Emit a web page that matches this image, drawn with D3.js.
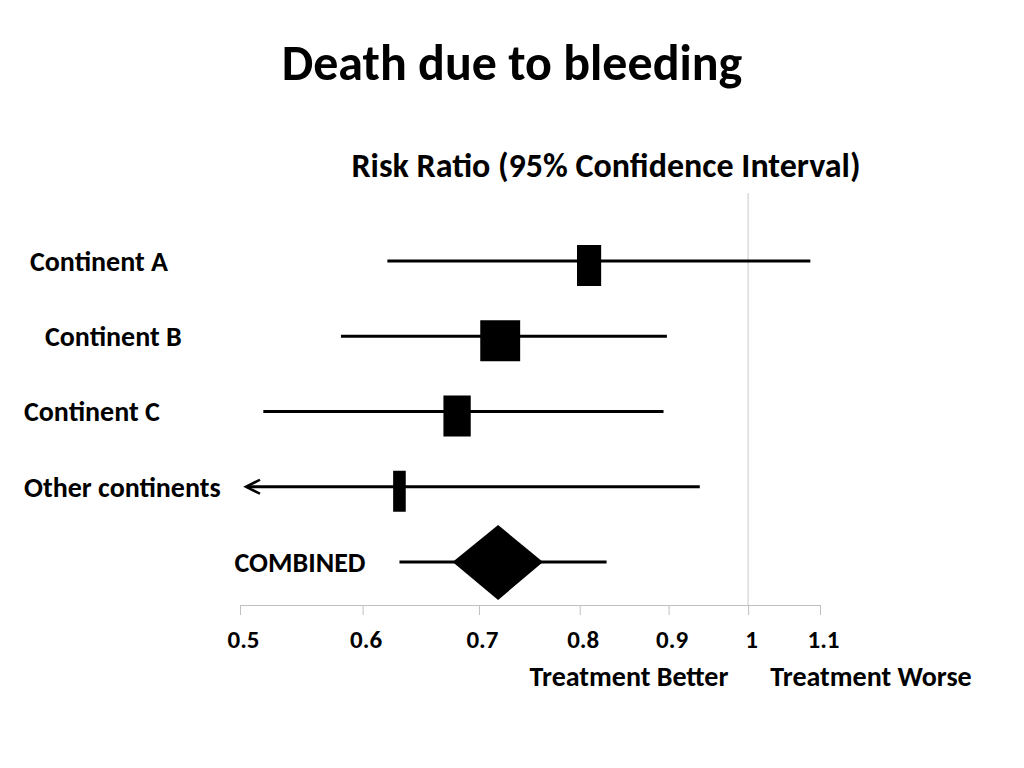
<!DOCTYPE html>
<html>
<head>
<meta charset="utf-8">
<script src="https://cdn.jsdelivr.net/npm/d3@7"></script>
<style>
  body { margin: 0; background: #fff; }
  svg text { font-family: Carlito, Lato, "Open Sans", sans-serif; font-weight: bold; fill: #000; }
</style>
</head>
<body>
<svg id="forest" width="1024" height="768"></svg>
<script>
// data
var groups   = ["Continent A", "Continent B", "Continent C", "Other continents", "COMBINED"];
var estimate = [0.81, 0.72, 0.68, 0.63, 0.718];
var lower    = [0.62, 0.583, 0.526, 0.45, 0.630];
var upper    = [1.086, 0.898, 0.894, 0.938, 0.829];
var weights  = [23, 38, 26, 12];          // study boxes, widths ~ weight
var combinedCI = [0.676, 0.762];          // diamond edges
var tickValues = [0.5, 0.6, 0.7, 0.8, 0.9, 1, 1.1];
var tickLabels = ["0.5", "0.6", "0.7", "0.8", "0.9", "1", "1.1"];

// layout
var svg = d3.select("svg#forest");
var axisY = 605,
    refTop = 193;

var x = d3.scaleLog().domain([0.51, 1.1]).range([240, 820]).clamp(true);
var y = d3.scalePoint().domain(groups).range([261, 562]);
var w = d3.scaleLinear().domain([0, 40]).range([0, 42]);

var labelX = { "Continent A": 30, "Continent B": 45, "Continent C": 24, "Other continents": 24 };

// titles
svg.append("text")
    .attr("x", 512).attr("y", 80)
    .attr("text-anchor", "middle")
    .style("font-size", "50px")
    .text("Death due to bleeding");

svg.append("text")
    .attr("x", 606).attr("y", 177)
    .attr("text-anchor", "middle")
    .style("font-size", "34px")
    .text("Risk Ratio (95% Confidence Interval)");

// line of no effect
svg.append("line")
    .attr("x1", x(1)).attr("x2", x(1))
    .attr("y1", refTop).attr("y2", axisY)
    .attr("stroke", "#c8c8c8")
    .attr("stroke-width", 1);

// axis
var axis = svg.append("g")
    .attr("class", "axis")
    .attr("transform", "translate(0," + axisY + ")")
    .call(d3.axisBottom(x)
        .tickValues(tickValues)
        .tickFormat(function (d, i) { return tickLabels[i]; })
        .tickSizeOuter(0)
        .tickSize(10)
        .tickPadding(15));

axis.select("path.domain").attr("stroke", "#c0c0c0");
axis.selectAll(".tick line").attr("stroke", "#c0c0c0");
axis.selectAll(".tick text")
    .attr("fill", "#000")
    .attr("dx", "0.12em")
    .style("font-size", "25px")
    .style("font-family", "Carlito, Lato, sans-serif")
    .style("font-weight", "bold");

svg.append("text")
    .attr("x", 629).attr("y", 686)
    .attr("text-anchor", "middle")
    .style("font-size", "28px")
    .text("Treatment Better");

svg.append("text")
    .attr("x", 871).attr("y", 686)
    .attr("text-anchor", "middle")
    .style("font-size", "28px")
    .text("Treatment Worse");

// rows
var rows = groups.map(function (g, i) {
    return { name: g, est: estimate[i], lo: lower[i], hi: upper[i], wt: weights[i] };
});

var row = svg.selectAll("g.row")
    .data(rows)
    .enter()
    .append("g")
    .attr("class", "row");

row.append("line")
    .attr("x1", function (d) { return d.lo < x.domain()[0] ? x(d.lo) + 7 : x(d.lo); })
    .attr("x2", function (d) { return x(d.hi); })
    .attr("y1", function (d) { return y(d.name); })
    .attr("y2", function (d) { return y(d.name); })
    .attr("stroke", "#000")
    .attr("stroke-width", 3);

// arrow where the interval runs off the axis
row.filter(function (d) { return d.lo < x.domain()[0]; })
    .append("path")
    .attr("d", function (d) {
        var tip = x(d.lo) + 6, cy = y(d.name);
        return "M" + (tip + 14) + "," + (cy - 7) + "L" + tip + "," + cy + "L" + (tip + 14) + "," + (cy + 7);
    })
    .attr("fill", "none")
    .attr("stroke", "#000")
    .attr("stroke-width", 2.5);

row.filter(function (d) { return d.wt !== undefined; })
    .append("rect")
    .attr("x", function (d) { return x(d.est) - w(d.wt) / 2; })
    .attr("y", function (d) { return y(d.name) - 16; })
    .attr("width", function (d) { return w(d.wt); })
    .attr("height", 41)
    .attr("fill", "#000");

row.filter(function (d) { return d.name === "COMBINED"; })
    .append("path")
    .attr("d", function (d) {
        var cy = y(d.name);
        return "M" + x(combinedCI[0]) + "," + cy +
            "L" + x(d.est) + "," + (cy - 37) +
            "L" + x(combinedCI[1]) + "," + cy +
            "L" + x(d.est) + "," + (cy + 38) + "Z";
    })
    .attr("fill", "#000");

// row labels
row.append("text")
    .attr("x", function (d) { return d.name === "COMBINED" ? x(d.lo) - 34 : labelX[d.name]; })
    .attr("y", function (d) { return y(d.name); })
    .attr("dy", "0.35em")
    .attr("text-anchor", function (d) { return d.name === "COMBINED" ? "end" : "start"; })
    .style("font-size", "28px")
    .text(function (d) { return d.name; });
</script>
</body>
</html>
